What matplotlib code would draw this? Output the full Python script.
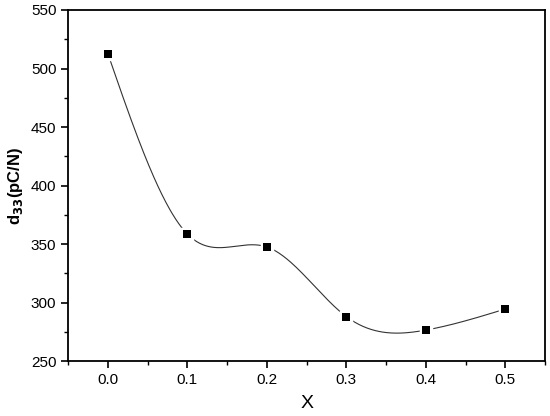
import numpy as np
import matplotlib
matplotlib.use("Agg")
import matplotlib.pyplot as plt
from matplotlib.ticker import MultipleLocator

plt.rcParams['font.family'] = ['Liberation Sans', 'DejaVu Sans']

x_vals = [0.0, 0.1, 0.2, 0.3, 0.4, 0.5]
d33_vals = [512.5, 358.5, 347.5, 288.0, 276.5, 294.5]


def natural_spline(x, y, xs):
    # plain natural cubic spline, no scipy around
    x = np.asarray(x, float)
    y = np.asarray(y, float)
    n = len(x)
    h = np.diff(x)
    A = np.zeros((n, n))
    b = np.zeros(n)
    A[0, 0] = A[-1, -1] = 1.0
    for i in range(1, n - 1):
        A[i, i - 1] = h[i - 1]
        A[i, i] = 2 * (h[i - 1] + h[i])
        A[i, i + 1] = h[i]
        b[i] = 3 * ((y[i + 1] - y[i]) / h[i] - (y[i] - y[i - 1]) / h[i - 1])
    c = np.linalg.solve(A, b)
    out = np.empty_like(xs)
    for k, xv in enumerate(xs):
        i = min(np.searchsorted(x, xv, side='right') - 1, n - 2)
        i = max(i, 0)
        dx = xv - x[i]
        bi = (y[i + 1] - y[i]) / h[i] - h[i] * (2 * c[i] + c[i + 1]) / 3
        di = (c[i + 1] - c[i]) / (3 * h[i])
        out[k] = y[i] + bi * dx + c[i] * dx ** 2 + di * dx ** 3
    return out


xs = np.linspace(x_vals[0], x_vals[-1], 400)
ys = natural_spline(x_vals, d33_vals, xs)

fig, ax = plt.subplots(figsize=(5.5, 4.16), dpi=100)
fig.subplots_adjust(left=0.124, right=0.991, top=0.976, bottom=0.132)

ax.plot(xs, ys, color='#333333', lw=0.8, zorder=2)
ax.plot(x_vals, d33_vals, 's', color='black', ms=6.5,
        mec='white', mew=2.5, zorder=3)
ax.plot(x_vals, d33_vals, 's', color='black', ms=6, mec='black', mew=0, zorder=4)

ax.set_xlim(-0.05, 0.55)
ax.set_ylim(250, 550)
ax.xaxis.set_major_locator(MultipleLocator(0.1))
ax.xaxis.set_minor_locator(MultipleLocator(0.05))
ax.yaxis.set_major_locator(MultipleLocator(50))
ax.yaxis.set_minor_locator(MultipleLocator(25))
ax.xaxis.set_major_formatter(matplotlib.ticker.FormatStrFormatter('%.1f'))

for s in ax.spines.values():
    s.set_linewidth(1.3)
ax.tick_params(which='major', direction='out', length=5, width=1.2, labelsize=11)
ax.tick_params(which='minor', direction='out', length=3, width=1.0)
ax.tick_params(top=False, right=False, which='both')

ax.set_xlabel('X', fontsize=14, labelpad=6)
ax.set_ylabel(r'd$_{\mathbf{33}}$(pC/N)', fontsize=12, fontweight='bold', labelpad=4)

fig.savefig('out.png', dpi=100)
